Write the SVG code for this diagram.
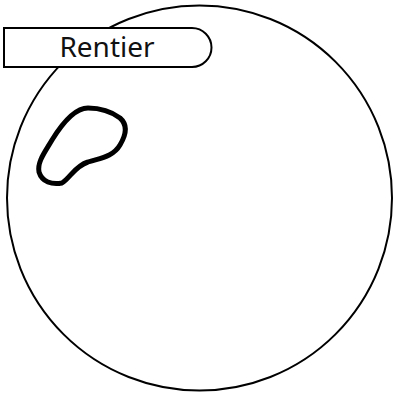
<svg xmlns="http://www.w3.org/2000/svg" width="393" height="394" viewBox="0 0 393 394">
<style>
.outline{fill:#fff;stroke:#000;stroke-width:2}
.blob{fill:none;stroke:#000;stroke-width:5;stroke-linejoin:round}
.label{font-family:"Noto Sans",sans-serif;font-size:28px;fill:#111;text-anchor:middle}
</style>
<g id="planet">
<circle class="outline" cx="199.5" cy="198" r="192.5"/>
</g>
<g id="blob">
<path class="blob" d="M 88 108 C 100 108, 112 112, 120 118 C 128 125, 126 135, 120 145 C 113 157, 100 158, 88 162 C 75 166, 70 178, 62 183 C 52 185, 42 182, 39 172 C 37 162, 45 152, 52 140 C 60 127, 74 108, 88 108 Z"/>
</g>
<g id="rentier">
<path class="outline" d="M 4 28 H 192 A 19.5 19.5 0 0 1 192 67 H 4 Z"/>
<text class="label" x="107" y="57">Rentier</text>
</g>
</svg>
